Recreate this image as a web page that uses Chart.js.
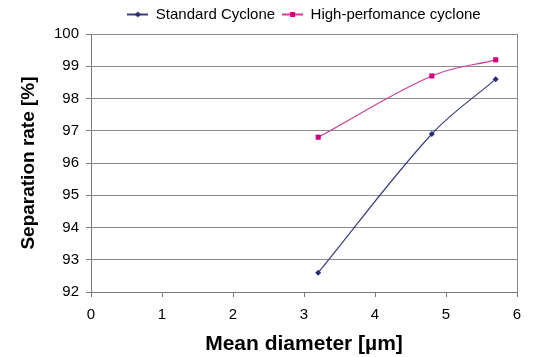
<!DOCTYPE html>
<html>
<head>
<meta charset="utf-8">
<script src="https://cdn.jsdelivr.net/npm/chart.js@4/dist/chart.umd.min.js"></script>
<style>
  html, body { margin: 0; padding: 0; background: #ffffff; }
  #c { display: block; }
</style>
</head>
<body>
<canvas id="c" width="554" height="357"></canvas>
<script>
// ---- data ----
const seriesNames = ['Standard Cyclone', 'High-perfomance cyclone'];
const diameters = [3.2, 4.8, 5.7];
const standardRates = [92.6, 96.9, 98.6];
const highPerfRates = [96.8, 98.7, 99.2];
const xTicks = [0, 1, 2, 3, 4, 5, 6];
const yTicks = [92, 93, 94, 95, 96, 97, 98, 99, 100];
const xTitle = 'Mean diameter [µm]';
const yTitle = 'Separation rate [%]';

const FONT = "'Liberation Sans', Arial, sans-serif";
const GRID = '#8c8c8c';
const NAVY = '#2b2b7a';
const NAVY_LINE = '#3c3c80';
const PINK = '#d0007f';
const PINK_LINE = '#c8409a';

function legendIcon(lineColor, markColor, shape) {
  const cv = document.createElement('canvas');
  cv.width = 21; cv.height = 9;
  const g = cv.getContext('2d');
  g.strokeStyle = lineColor; g.lineWidth = 2;
  g.beginPath(); g.moveTo(0, 4.5); g.lineTo(21, 4.5); g.stroke();
  g.fillStyle = markColor;
  if (shape === 'diamond') {
    g.beginPath(); g.moveTo(10.5, 1.5); g.lineTo(13.5, 4.5); g.lineTo(10.5, 7.5); g.lineTo(7.5, 4.5); g.closePath(); g.fill();
  } else {
    g.fillRect(8, 2, 5, 5);
  }
  return cv;
}

const toPoints = (xs, ys) => xs.map((x, i) => ({ x: x, y: ys[i] }));

const fixLegend = {
  id: 'fixLegend',
  beforeLayout(chart) {
    const lg = chart.legend;
    if (lg && !lg._fixed) {
      const orig = lg.fit;
      lg.fit = function () { orig.call(this); this.height = 34; };
      lg._fixed = true;
    }
  },
  afterLayout(chart) {
    const lg = chart.legend;
    if (lg) {
      lg.left = chart.chartArea.left;
      lg.right = chart.chartArea.right;
      lg.width = lg.right - lg.left;
    }
  }
};

new Chart(document.getElementById('c'), {
  type: 'scatter',
  data: {
    datasets: [
      {
        label: seriesNames[0],
        data: toPoints(diameters, standardRates),
        showLine: true,
        borderColor: NAVY_LINE,
        borderWidth: 1.2,
        tension: 0.35,
        pointStyle: 'rectRot',
        pointRadius: 3,
        pointBackgroundColor: NAVY,
        pointBorderColor: NAVY,
        pointBorderWidth: 0,
        legendIcon: legendIcon(NAVY_LINE, NAVY, 'diamond')
      },
      {
        label: seriesNames[1],
        data: toPoints(diameters, highPerfRates),
        showLine: true,
        borderColor: PINK_LINE,
        borderWidth: 1.2,
        tension: 0.35,
        pointStyle: 'rect',
        pointRadius: 3.6,
        pointBackgroundColor: PINK,
        pointBorderColor: PINK,
        pointBorderWidth: 0,
        legendIcon: legendIcon(PINK_LINE, PINK, 'square')
      }
    ]
  },
  options: {
    responsive: false,
    animation: false,
    layout: { padding: { top: 0, right: 37, bottom: 0, left: 0 } },
    plugins: {
      tooltip: { enabled: false },
      legend: {
        display: true,
        position: 'top',
        align: 'center',
        labels: {
          usePointStyle: true,
          pointStyleWidth: 21,
          boxHeight: 9,
          padding: 7,
          color: '#000000',
          font: { family: FONT, size: 15 },
          generateLabels(chart) {
            return chart.data.datasets.map((ds, i) => ({
              text: ds.label,
              pointStyle: ds.legendIcon,
              fillStyle: ds.borderColor,
              strokeStyle: ds.borderColor,
              lineWidth: 0,
              hidden: false,
              datasetIndex: i
            }));
          }
        }
      }
    },
    scales: {
      x: {
        type: 'linear',
        min: 0, max: 6,
        afterBuildTicks(scale) { scale.ticks = xTicks.map(v => ({ value: v })); },
        afterFit(scale) { scale.height = 65; scale.paddingLeft = 0; scale.paddingRight = 0; },
        border: { display: true, color: '#7a7a7a', width: 1 },
        grid: {
          display: true,
          drawOnChartArea: true,
          drawTicks: true,
          tickLength: 5,
          tickColor: '#7a7a7a',
          color: ctx => (ctx.tick && ctx.tick.value === 6 ? GRID : 'rgba(0,0,0,0)')
        },
        ticks: {
          color: '#000000',
          padding: 9,
          font: { family: FONT, size: 15 },
          maxRotation: 0
        },
        title: {
          display: true,
          text: xTitle,
          color: '#000000',
          font: { family: FONT, size: 21, weight: 'bold' },
          padding: { top: 0, bottom: 0 }
        }
      },
      y: {
        type: 'linear',
        min: 92, max: 100,
        afterBuildTicks(scale) { scale.ticks = yTicks.map(v => ({ value: v })); },
        afterFit(scale) { scale.width = 91; scale.paddingTop = 0; scale.paddingBottom = 0; },
        border: { display: true, color: '#7a7a7a', width: 1 },
        grid: {
          display: true,
          drawTicks: true,
          tickLength: 5,
          tickColor: '#7a7a7a',
          color: GRID
        },
        ticks: {
          color: '#000000',
          padding: 7,
          font: { family: FONT, size: 15 }
        },
        title: {
          display: true,
          text: yTitle,
          color: '#000000',
          font: { family: FONT, size: 19, weight: 'bold' },
          padding: { top: 17, bottom: 0 }
        }
      }
    }
  },
  plugins: [fixLegend]
});
</script>
</body>
</html>
